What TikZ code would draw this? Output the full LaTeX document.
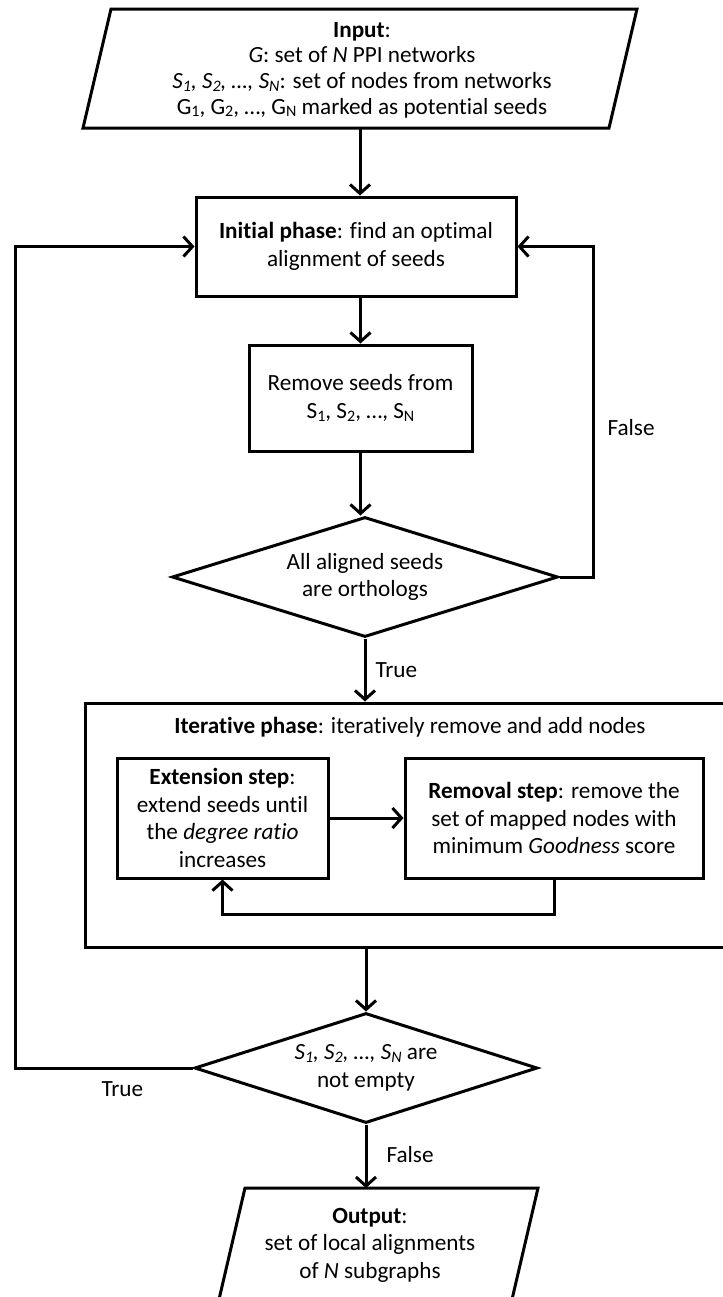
\documentclass[tikz,border=0pt]{standalone}
\usepackage{fontspec}
\setmainfont[Ligatures=NoCommon]{Carlito}
\usetikzlibrary{arrows.meta,shapes.geometric}
\newcommand\lowidx[1]{\raisebox{-0.25ex}{\footnotesize #1}}
\begin{document}
\begin{tikzpicture}[x=0.5pt,y=-0.5pt,line width=1.5pt,
  >={Straight Barb[length=4.5pt,width=10pt,line width=1.5pt]},
  fnt/.style={font=\fontsize{11.6}{13.8}\selectfont},
  box/.style={draw,rectangle,align=center,inner sep=0pt,fnt},
  dia/.style={draw,diamond,align=center,inner sep=0pt,fnt},
  txt/.style={align=center,inner sep=0pt,fnt},
  lab/.style={inner sep=0pt,fnt,anchor=west}]
\useasboundingbox (0,0) rectangle (723,1297);
\clip (0,0) rectangle (723,1297);

% Input
\draw (111,9) -- (637,9) -- (609,128) -- (83,128) -- cycle;
\coordinate (inB) at (360,128);
\node[txt,font=\fontsize{11.6}{12.8}\selectfont] (in) at (362,70) {\textbf{Input}:\\
  \textit{G}: set of \textit{N} PPI networks\\
  \textit{S\lowidx{1}, S\lowidx{2}, …, S\lowidx{N}}: set of nodes from networks\\
  G\lowidx{1}, G\lowidx{2}, …, G\lowidx{N} marked as potential seeds};

% Initial phase
\node[box,minimum width=160pt,minimum height=49.5pt] (init) at (356,246.5)
  {\textbf{Initial phase}: find an optimal\\alignment of seeds};

% Remove seeds
\node[box,minimum width=111.5pt,minimum height=53pt] (rem) at (360.5,398)
  {Remove seeds from\\S\lowidx{1}, S\lowidx{2}, …, S\lowidx{N}};

% Diamond 1
\node[dia,minimum width=193pt,minimum height=60pt,aspect=3.2] (d1) at (365,577)
  {All aligned seeds\\are orthologs};

% Iterative phase
\node[draw,rectangle,minimum width=327.5pt,minimum height=122pt,inner sep=0pt] (iter) at (412.5,825) {};
\node[txt] (ititle) at (410,727) {\textbf{Iterative phase}: iteratively remove and add nodes};
\node[box,minimum width=105.5pt,minimum height=60pt] (ext) at (222.5,818)
  {\textbf{Extension step}:\\extend seeds until\\the \textit{degree ratio}\\increases};
\node[box,minimum width=149pt,minimum height=60pt] (remv) at (554,818)
  {\textbf{Removal step}: remove the\\set of mapped nodes with\\minimum \textit{Goodness} score};

% Diamond 2
\node[dia,minimum width=171.5pt,minimum height=55pt,aspect=3.1] (d2) at (366,1068)
  {\textit{S\lowidx{1}, S\lowidx{2}, …, S\lowidx{N}} are\\not empty};

% Output
\draw (245,1188) -- (538,1188) -- (510,1308) -- (217,1308) -- cycle;
\coordinate (outT) at (370,1188);
\node[txt] (out) at (370,1245) {\textbf{Output}:\\set of local alignments\\of \textit{N} subgraphs};

% connectors
\draw[->] (inB) -- (inB |- init.north);
\draw[->] (rem.north |- init.south) -- (rem.north);
\draw[->] (rem.south) -- (rem.south |- d1.north);
\draw[->] (d1.south) -- (d1.south |- iter.north);
\node[lab] (ltrue1) at (374,670) {True};
\draw[->] (ext.east) -- (ext.east -| remv.west);
\coordinate (fb) at (554,914);
\draw[->] (remv.south) -- (fb) -- (fb -| ext.south) -- (ext.south);
\draw[->] (d2.north |- iter.south) -- (d2.north);
\coordinate (lp1) at (15,1068);
\coordinate (lp2) at (15,246.5);
\draw[->] (d2.west) -- (lp1) -- (lp2) -- (init.west);
\node[lab] (ltrue2) at (100,1089) {True};
\coordinate (rp1) at (593,577);
\coordinate (rp2) at (593,246.5);
\draw[->] (d1.east) -- (rp1) -- (rp2) -- (init.east);
\node[lab] (lfalse1) at (606,428) {False};
\draw[->] (d2.south) -- (d2.south |- outT);
\node[lab] (lfalse2) at (385,1155) {False};
\end{tikzpicture}
\end{document}
